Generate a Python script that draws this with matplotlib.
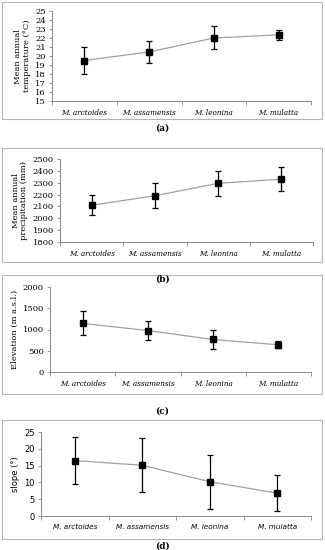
import matplotlib.pyplot as plt
from matplotlib.patches import Rectangle
import numpy as np

species = ["M. arctoides", "M. assamensis", "M. leonina", "M. mulatta"]

# (a) mean annual temperature
temp_mean = [19.5, 20.45, 22.0, 22.35]
temp_low = [18.0, 19.2, 20.75, 21.8]
temp_high = [21.0, 21.65, 23.3, 22.9]

# (b) mean annual precipitation
prec_mean = [2110, 2190, 2295, 2330]
prec_low = [2030, 2090, 2190, 2230]
prec_high = [2195, 2295, 2400, 2430]

# (c) elevation
elev_mean = [1145, 975, 765, 640]
elev_low = [860, 760, 545, 565]
elev_high = [1430, 1190, 1000, 735]

# (d) slope
slope_mean = [16.5, 15.1, 10.2, 6.8]
slope_low = [9.5, 7.1, 2.2, 1.5]
slope_high = [23.6, 23.3, 18.2, 12.3]

W, H = 325, 550
fig = plt.figure(figsize=(W / 100, H / 100), dpi=100)

serif = "DejaVu Serif"

def px(x0, y0, x1, y1):
    # pixel box (top-left origin) -> figure fraction
    return [x0 / W, 1 - y1 / H, (x1 - x0) / W, (y1 - y0) / H]

panels = [
    # box, axes, data, ylim, yticks, ylabel, tag, tag_y, font
    ((2, 2, 322, 119), (52, 11, 311, 101), (temp_mean, temp_low, temp_high),
     (15, 25), np.arange(15, 26, 1), "Mean annual\ntemperature (°C)", "(a)", 128, serif),
    ((2, 148, 322, 262), (60, 159, 313, 242), (prec_mean, prec_low, prec_high),
     (1800, 2500), np.arange(1800, 2501, 100), "Mean annual\nprecipitation (mm)", "(b)", 279, serif),
    ((2, 275, 322, 394), (50, 287, 311, 372), (elev_mean, elev_low, elev_high),
     (0, 2000), np.arange(0, 2001, 500), "Elevation (m a.s.l.)", "(c)", 411, serif),
    ((2, 420, 322, 539), (41, 432, 311, 516), (slope_mean, slope_low, slope_high),
     (0, 25), np.arange(0, 26, 5), "slope (°)", "(d)", 546, "DejaVu Sans"),
]

for box, axbox, (mean, low, high), ylim, yticks, ylabel, tag, tag_y, font in panels:
    fig.patches.append(Rectangle((box[0] / W, 1 - box[3] / H), (box[2] - box[0]) / W,
                                 (box[3] - box[1]) / H, transform=fig.transFigure,
                                 fill=False, edgecolor="#b5b5b5", linewidth=0.8))
    ax = fig.add_axes(px(*axbox))
    x = np.arange(len(species))
    mean = np.array(mean)
    yerr = [mean - np.array(low), np.array(high) - mean]
    ax.plot(x, mean, color="#a0a0a0", linewidth=0.9, zorder=1)
    ax.errorbar(x, mean, yerr=yerr, fmt="s", color="black", markersize=4.3,
                elinewidth=0.9, capsize=2.5, capthick=0.9, zorder=2)
    ax.set_xlim(-0.5, len(species) - 0.5)
    ax.set_ylim(*ylim)
    ax.set_yticks(yticks)
    ax.set_yticklabels([str(v) for v in yticks], fontsize=6, family=font)
    ax.set_xticks(x)
    ax.set_xticklabels(species, fontsize=5.2, family=font, style="italic")
    ax.set_xticks(np.arange(-0.5, len(species), 1), minor=True)
    ax.tick_params(axis="x", which="major", length=0, pad=6)
    ax.tick_params(axis="x", which="minor", length=3, direction="out", width=0.6, color="#888888")
    ax.tick_params(axis="y", length=2.5, width=0.6, pad=2, color="#888888")
    for side in ["top", "right"]:
        ax.spines[side].set_visible(False)
    for side in ["left", "bottom"]:
        ax.spines[side].set_color("#888888")
        ax.spines[side].set_linewidth(0.7)
    ax.set_ylabel(ylabel, fontsize=6, family=font, labelpad=3, linespacing=1.1)
    fig.text(0.5, 1 - tag_y / H, tag, ha="center", va="center", fontsize=6.5,
             family=serif, weight="bold")

fig.savefig("out.png", dpi=100)
